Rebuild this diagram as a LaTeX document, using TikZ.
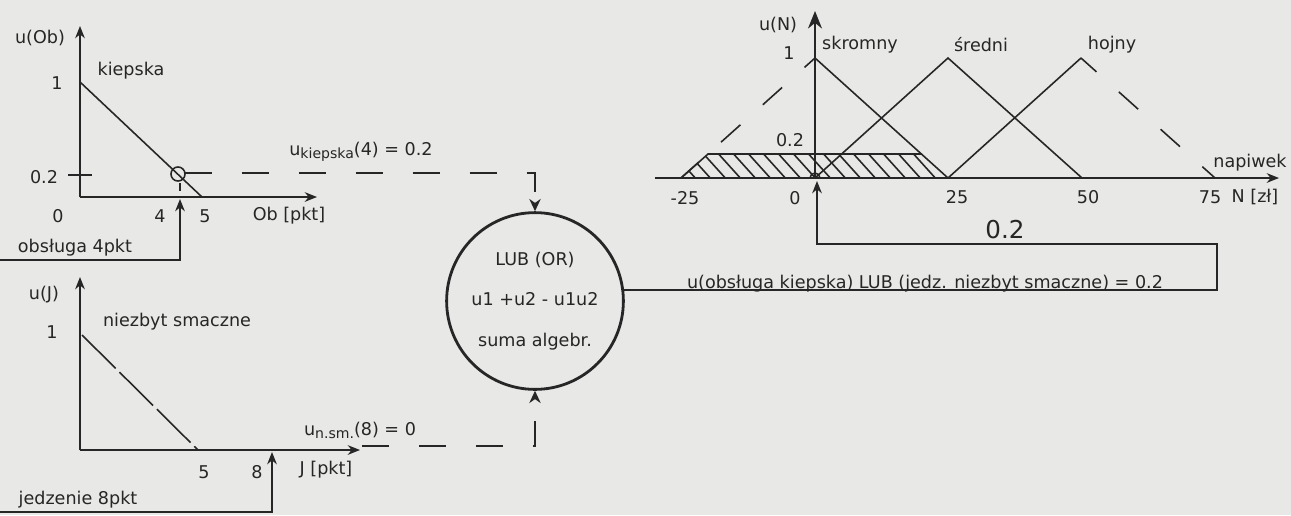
\documentclass[tikz,border=0pt]{standalone}
\usepackage{fontspec}
\setmainfont{DejaVu Sans}
\usetikzlibrary{arrows.meta,positioning}
\definecolor{InkGray}{RGB}{38,38,38}
\definecolor{PaperGray}{RGB}{232,232,230}

\begin{document}
\begin{tikzpicture}[
    x=0.02cm, y=-0.02cm,
    line width=0.9pt, color=InkGray,
    lbl/.style={font=\fontsize{10}{12}\selectfont, inner sep=1pt},
    axis/.style={-{Stealth[length=7pt, width=5.5pt]}},
    arrow/.style={-{Stealth[length=7pt, width=5.5pt]}},
    jump/.style={dash pattern=on 15.4pt off 17pt, -{Stealth[length=7pt, width=6.5pt]}},
    seg/.style={dash pattern=on 14.8pt off 17.1pt},
    gate/.style={circle, draw, line width=1.6pt, minimum size=2.8cm, align=center, font=\fontsize{10}{23}\selectfont}
]

% Paper
\fill[PaperGray] (0,0) rectangle (1291,515);
\useasboundingbox (0,0) rectangle (1291,515);

% Service chart
\coordinate (ob0) at (80,197);
\coordinate (obX) at (317,197);
\coordinate (obY) at (80,26);
\draw[axis] (ob0) -- (obX);
\draw[axis] (ob0) -- (obY);
\draw (80,82) -- (202,197);
\draw (68,175) -- (92,175);
\draw (180,183) -- (180,191);
\node[circle, draw, minimum size=8pt, inner sep=0pt] (hitOb) at (178,174) {};
\node[lbl] (uOb) at (40,38) {u(Ob)};
\node[lbl] (ob1) at (57,83) {1};
\node[lbl] (kiepska) at (131,71) {kiepska};
\node[lbl] (ob02) at (44,177) {0.2};
\node[lbl] (ob0l) at (58,216) {0};
\node[lbl] (ob4l) at (160,216) {4};
\node[lbl] (ob5l) at (205,216) {5};
\node[lbl] (obAx) at (289,216) {Ob [pkt]};
\node[lbl] (obIn) at (75,248) {obsługa 4pkt};
\coordinate (obLine) at (0,260);
\coordinate (ob4) at (180,199);
\draw[arrow] (obLine) -| (ob4);

% Food chart
\coordinate (j0) at (80,450);
\coordinate (jX) at (360,450);
\coordinate (jY) at (80,277);
\draw[axis] (j0) -- (jX);
\draw[axis] (j0) -- (jY);
\draw[dash pattern=on 27pt off 3pt] (82,335) -- (198,450);
\node[lbl] (uJ) at (44,295) {u(J)};
\node[lbl] (j1) at (52,332) {1};
\node[lbl] (nsm) at (177,322) {niezbyt smaczne};
\node[lbl] (j5l) at (204,472) {5};
\node[lbl] (j8l) at (257,472) {8};
\node[lbl] (jAx) at (326,470) {J [pkt]};
\node[lbl] (jIn) at (78,500) {jedzenie 8pkt};
\coordinate (jLine) at (0,512);
\coordinate (j8) at (272,452);
\draw[arrow] (jLine) -| (j8);

% OR gate
\node[gate] (lub) at (535,301) {LUB (OR)\\u1 +u2 - u1u2\\suma algebr.};
\coordinate (kiepOut) at (185,173);
\draw[jump] (kiepOut) -| (lub.north);
\node[lbl] (uKiep) at (361,152) {u\raisebox{-0.3ex}{\fontsize{8}{9}\selectfont kiepska}(4) = 0.2};
\coordinate (jOut) at (362,446);
\draw[jump] (jOut) -| (lub.south);
\node[lbl] (uNsm) at (360,430) {u\raisebox{-0.3ex}{\fontsize{8}{9}\selectfont n.sm.}(8) = 0};

% Tip chart
\coordinate (n0) at (815,178);
\coordinate (nL) at (655,178);
\coordinate (nX) at (1279,178);
\coordinate (nY) at (815,11);
\draw[axis] (nL) -- (nX);
\draw[-{Stealth[length=10pt, width=8pt]}] (n0) -- (nY);
\begin{scope}
\clip (681,178) -- (708,154) -- (921,154) -- (948,178) -- cycle;
\foreach \hx in {640,655,...,950} \draw (\hx,150) -- ++(28,31);
\end{scope}
\draw (681,178) -- (708,154) -- (921,154);
\draw (815,58) -- (948,178);
\draw[seg, dash phase=6.8pt] (815,58) -- (681,178);
\draw (815,178) -- (948,58) -- (1082,178);
\draw (948,178) -- (1081,58);
\draw[seg, dash phase=3pt] (1081,58) -- (1215,178);
\draw (810,178) arc[start angle=180, end angle=360, radius=5];
\node[lbl] (uN) at (778,25) {u(N)};
\node[lbl] (n1) at (789,53) {1};
\node[lbl] (skromny) at (860,45) {skromny};
\node[lbl] (sredni) at (981,45) {średni};
\node[lbl] (hojny) at (1112,45) {hojny};
\node[lbl] (n02) at (790,140) {0.2};
\node[lbl] (napiwek) at (1250,163) {napiwek};
\node[lbl] (nm25) at (685,198) {-25};
\node[lbl] (n0l) at (795,198) {0};
\node[lbl] (n25) at (957,197) {25};
\node[lbl] (n50) at (1088,197) {50};
\node[lbl] (n75) at (1210,197) {75};
\node[lbl] (nAx) at (1255,197) {N [zł]};

% Result
\coordinate (brk) at (1217,244);
\coordinate (nIn) at (817,181);
\draw[arrow] (lub.7) -| (brk) -| (nIn);
\node[lbl] (res) at (925,284) {u(obsługa kiepska) LUB (jedz. niezbyt smaczne) = 0.2};
\node[lbl, font=\fontsize{14}{16}\selectfont] (res02) at (1005,230) {0.2};

\end{tikzpicture}
\end{document}
